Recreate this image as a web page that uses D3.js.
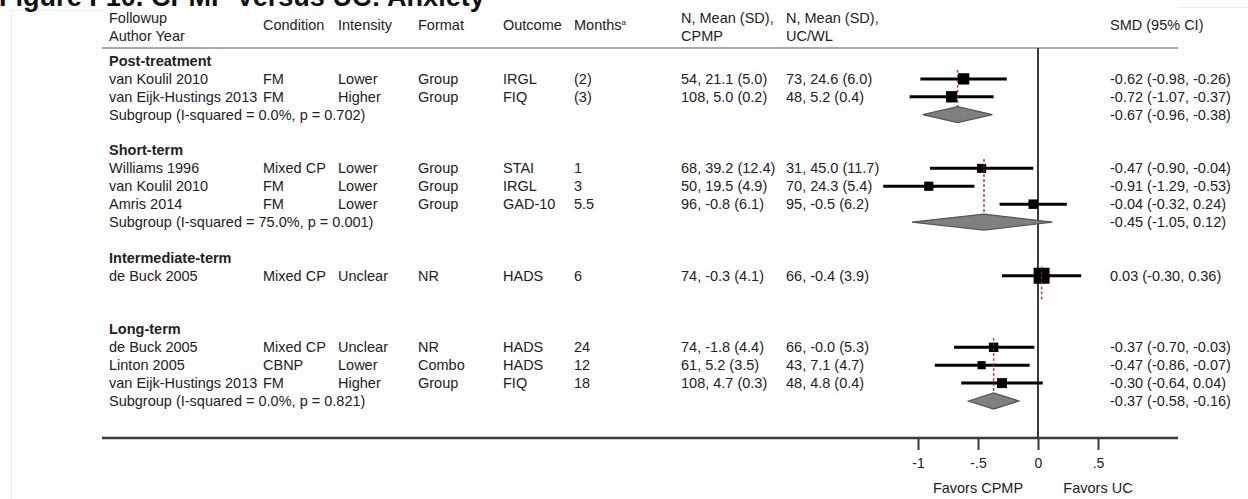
<!DOCTYPE html>
<html>
<head>
<meta charset="utf-8">
<script src="https://cdn.jsdelivr.net/npm/d3@7"></script>
<style>
  body { margin: 0; background: #fff; }
  svg text { font-family: Arial, "Liberation Sans", sans-serif; fill: #222; }
</style>
</head>
<body>
<svg id="chart" width="1248" height="499"></svg>
<script>
// ---- data ----
var groups = ["Post-treatment", "Short-term", "Intermediate-term", "Long-term"];
var studyGroup = [0, 0, 1, 1, 1, 2, 3, 3, 3];
var authors = ["van Koulil 2010", "van Eijk-Hustings 2013", "Williams 1996", "van Koulil 2010",
    "Amris 2014", "de Buck 2005", "de Buck 2005", "Linton 2005", "van Eijk-Hustings 2013"];
var conditions = ["FM", "FM", "Mixed CP", "FM", "FM", "Mixed CP", "Mixed CP", "CBNP", "FM"];
var intensities = ["Lower", "Higher", "Lower", "Lower", "Lower", "Unclear", "Unclear", "Lower", "Higher"];
var formats = ["Group", "Group", "Group", "Group", "Group", "NR", "NR", "Combo", "Group"];
var outcomes = ["IRGL", "FIQ", "STAI", "IRGL", "GAD-10", "HADS", "HADS", "HADS", "FIQ"];
var months = ["(2)", "(3)", "1", "3", "5.5", "6", "24", "12", "18"];
var cpmp = ["54, 21.1 (5.0)", "108, 5.0 (0.2)", "68, 39.2 (12.4)", "50, 19.5 (4.9)", "96, -0.8 (6.1)",
    "74, -0.3 (4.1)", "74, -1.8 (4.4)", "61, 5.2 (3.5)", "108, 4.7 (0.3)"];
var ucwl = ["73, 24.6 (6.0)", "48, 5.2 (0.4)", "31, 45.0 (11.7)", "70, 24.3 (5.4)", "95, -0.5 (6.2)",
    "66, -0.4 (3.9)", "66, -0.0 (5.3)", "43, 7.1 (4.7)", "48, 4.8 (0.4)"];
var smd = [-0.62, -0.72, -0.47, -0.91, -0.04, 0.03, -0.37, -0.47, -0.30];
var smdLo = [-0.98, -1.07, -0.90, -1.29, -0.32, -0.30, -0.70, -0.86, -0.64];
var smdHi = [-0.26, -0.37, -0.04, -0.53, 0.24, 0.36, -0.03, -0.07, 0.04];
var weights = [50, 50, 32, 33, 35, 100, 35, 26, 39]; // % weight within subgroup (estimated)

var subLabels = ["Subgroup (I-squared = 0.0%, p = 0.702)", "Subgroup (I-squared = 75.0%, p = 0.001)",
    null, "Subgroup (I-squared = 0.0%, p = 0.821)"];
var subEst = [-0.67, -0.45, 0.03, -0.37];
var subLo = [-0.96, -1.05, null, -0.58];
var subHi = [-0.38, 0.12, null, -0.16];

var tickValues = [-1, -0.5, 0, 0.5];
var tickLabels = ["-1", "-.5", "0", ".5"];

var headers = [
    {x: 109, lines: ["Followup", "Author Year"]},
    {x: 263, lines: ["Condition"]},
    {x: 338, lines: ["Intensity"]},
    {x: 418, lines: ["Format"]},
    {x: 503, lines: ["Outcome"]},
    {x: 574, lines: ["Months"], sup: "a"},
    {x: 681, lines: ["N, Mean (SD),", "CPMP"]},
    {x: 786, lines: ["N, Mean (SD),", "UC/WL"]},
    {x: 1110, lines: ["SMD (95% CI)"]}
];

var fmt = d3.format(".2f");
// plain hyphen for negatives, like the original
function num(v) { return fmt(v).replace("\u2212", "-"); }
function ci(e, l, h) { return num(e) + " (" + num(l) + ", " + num(h) + ")"; }

// ---- row layout: header, studies, subgroup row, blank per group ----
var rows = [];
var groupSpan = [];
var r = 0;
groups.forEach(function (g, gi) {
    rows.push({type: "group", row: r, text: g});
    r++;
    var first = r;
    studyGroup.forEach(function (sg, i) {
        if (sg === gi) { rows.push({type: "study", row: r, i: i}); r++; }
    });
    if (subLabels[gi]) rows.push({type: "sub", row: r, g: gi});
    groupSpan.push({g: gi, first: first, last: r});
    r += 2;
});

var svg = d3.select("#chart");
var fs = 14.5;

var y = d3.scaleLinear().domain([0, 19]).range([66, 406]);
var x = d3.scaleLinear().domain([-1, 0.5]).range([918, 1098]);
var size = d3.scaleSqrt().domain([0, 100]).range([0, 16]);

// faint frame of the original page
var frame = svg.append("g").attr("stroke", "#e3f0f0").attr("stroke-width", 1.2).attr("fill", "none");
frame.append("line").attr("x1", 11.5).attr("x2", 11.5).attr("y1", 10).attr("y2", 499);
frame.append("line").attr("x1", 11.5).attr("x2", 102).attr("y1", 10.5).attr("y2", 10.5);
frame.append("line").attr("x1", 1178).attr("x2", 1248).attr("y1", 7.5).attr("y2", 7.5);

// title, cut off at the top as in the original
var title = svg.append("text")
    .attr("x", -1).attr("y", 6)
    .style("font-weight", "bold").style("font-size", "22px").style("fill", "#111")
    .text("Figure F10. CPMP Versus UC: Anxiety");
var tw = title.node().getComputedTextLength();
title.style("font-size", (22 * 486 / tw) + "px");

// column headers
headers.forEach(function (h) {
    var single = h.lines.length === 1;
    h.lines.forEach(function (t, k) {
        var tx = svg.append("text")
            .attr("x", h.x).attr("y", single ? 30 : 23 + k * 18)
            .style("font-size", fs + "px")
            .text(t);
        if (h.sup) tx.append("tspan").attr("dy", -5).style("font-size", "8px").text(h.sup);
    });
});

svg.append("line")
    .attr("x1", 102).attr("x2", 1178).attr("y1", 48).attr("y2", 48)
    .attr("stroke", "#aaa").attr("stroke-width", 2);

// text columns
var colX = [109, 263, 338, 418, 503, 574, 681, 786, 1110];
rows.forEach(function (d) {
    var yy = y(d.row);
    if (d.type === "group") {
        svg.append("text").attr("x", colX[0]).attr("y", yy)
            .style("font-size", fs + "px").style("font-weight", "bold").text(d.text);
    } else if (d.type === "study") {
        var i = d.i;
        var vals = [authors[i], conditions[i], intensities[i], formats[i], outcomes[i], months[i],
            cpmp[i], ucwl[i], ci(smd[i], smdLo[i], smdHi[i])];
        vals.forEach(function (v, k) {
            svg.append("text").attr("x", colX[k]).attr("y", yy)
                .style("font-size", fs + "px").text(v);
        });
    } else {
        svg.append("text").attr("x", colX[0]).attr("y", yy)
            .style("font-size", fs + "px").text(subLabels[d.g]);
        svg.append("text").attr("x", colX[8]).attr("y", yy)
            .style("font-size", fs + "px").text(ci(subEst[d.g], subLo[d.g], subHi[d.g]));
    }
});

// zero line
svg.append("line")
    .attr("x1", x(0)).attr("x2", x(0)).attr("y1", 48).attr("y2", 438)
    .attr("stroke", "#3a3a3a").attr("stroke-width", 2);

// subgroup pooled estimate lines
function estLines(width, op) {
    svg.append("g").selectAll("line").data(groupSpan).join("line")
        .attr("x1", function (d) { return x(subEst[d.g]); })
        .attr("x2", function (d) { return x(subEst[d.g]); })
        .attr("y1", function (d) { return y(d.first) - 14; })
        .attr("y2", function (d) { return y(d.last) + 3; })
        .attr("stroke", "#b8474a").attr("stroke-width", width)
        .attr("stroke-dasharray", "2.5,2.5").attr("opacity", op);
}
estLines(1.5, 1);

// study CIs and squares
var studies = rows.filter(function (d) { return d.type === "study"; });
svg.append("g").selectAll("line").data(studies).join("line")
    .attr("x1", function (d) { return x(smdLo[d.i]); })
    .attr("x2", function (d) { return x(smdHi[d.i]); })
    .attr("y1", function (d) { return y(d.row) - 5; })
    .attr("y2", function (d) { return y(d.row) - 5; })
    .attr("stroke", "#000").attr("stroke-width", 3);

svg.append("g").selectAll("rect").data(studies).join("rect")
    .attr("x", function (d) { return x(smd[d.i]) - size(weights[d.i]) / 2; })
    .attr("y", function (d) { return y(d.row) - 5 - size(weights[d.i]) / 2; })
    .attr("width", function (d) { return size(weights[d.i]); })
    .attr("height", function (d) { return size(weights[d.i]); })
    .attr("fill", "#000");

// dotted line shows through the squares in the original
estLines(1.2, 0.7);

// subgroup diamonds
var subs = rows.filter(function (d) { return d.type === "sub"; });
svg.append("g").selectAll("path").data(subs).join("path")
    .attr("d", function (d) {
        var cy = y(d.row) - 5;
        return "M" + x(subLo[d.g]) + "," + cy +
            "L" + x(subEst[d.g]) + "," + (cy - 8) +
            "L" + x(subHi[d.g]) + "," + cy +
            "L" + x(subEst[d.g]) + "," + (cy + 8) + "Z";
    })
    .attr("fill", "#808080").attr("stroke", "#555").attr("stroke-width", 1.2);

// axis
svg.append("line")
    .attr("x1", 102).attr("x2", 1178).attr("y1", 438).attr("y2", 438)
    .attr("stroke", "#3a3a3a").attr("stroke-width", 2.5);

var axis = svg.append("g").attr("transform", "translate(0,438)")
    .call(d3.axisBottom(x).tickValues(tickValues)
        .tickFormat(function (d, i) { return tickLabels[i]; })
        .tickSize(12).tickPadding(8));
axis.select(".domain").remove();
axis.selectAll(".tick line").attr("stroke", "#3a3a3a").attr("stroke-width", 2);
axis.selectAll(".tick text").style("font-size", "14px")
    .style("font-family", "Arial, 'Liberation Sans', sans-serif").attr("fill", "#222");

svg.append("text").attr("x", x(-0.5)).attr("y", 493).attr("text-anchor", "middle")
    .style("font-size", fs + "px").text("Favors CPMP");
svg.append("text").attr("x", x(0.5)).attr("y", 493).attr("text-anchor", "middle")
    .style("font-size", fs + "px").text("Favors UC");
</script>
</body>
</html>
